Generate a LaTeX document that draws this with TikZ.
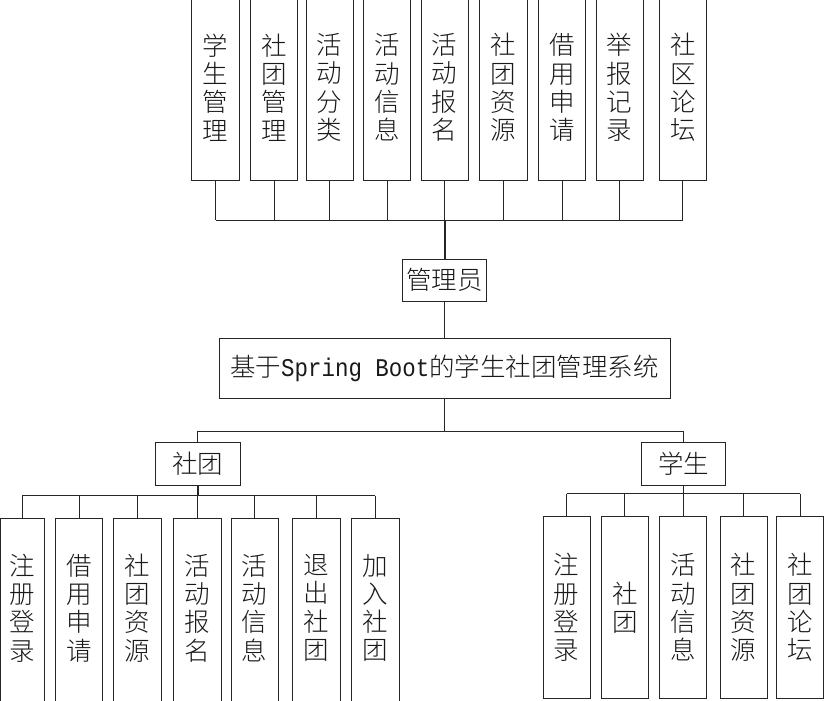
\documentclass[tikz,border=0pt]{standalone}
\usepackage{fontspec}
\setmainfont{Noto Sans CJK SC Light}
\newfontfamily\monolat{Liberation Mono}[FakeStretch=0.88]
\tikzset{
  ln/.style={line width=0.9pt, draw=black!85},
  boxbase/.style={rectangle, inner sep=0pt, align=center, text=black!90,
    font=\fontsize{25.5}{28.3}\selectfont},
  vbox/.style={boxbase, ln, draw, minimum width=47.5pt},
  hbox/.style={boxbase, ln, draw, minimum height=42pt},
  openbox/.style={boxbase, minimum width=47pt, minimum height=178pt},
}
\begin{document}
\begin{tikzpicture}[x=1pt,y=-1pt]
\useasboundingbox (0,0) rectangle (831,701);
\begin{scope}
\clip (0,0) rectangle (831,701);
% top row
\foreach \n/\x/\t in {t1/215.5/学\\生\\管\\理, t2/274/社\\团\\管\\理, t3/329.7/活\\动\\分\\类,
  t4/387/活\\动\\信\\息, t5/444.7/活\\动\\报\\名, t6/503.3/社\\团\\资\\源,
  t7/562/借\\用\\申\\请, t8/619.7/举\\报\\记\\录, t9/682.8/社\\区\\论\\坛}
  \node[vbox, minimum height=185pt] (\n) at (\x,87.5) {\t};
\coordinate (tbus) at (444.7,220.3);
\node[hbox, minimum width=84pt] (mgr) at (444.7,280.2) {管理员};
\node[hbox, minimum width=451pt, minimum height=60.4pt] (sys) at (444.5,368.5)
  {基于{\monolat Spring Boot}的学生社团管理系统};
\node[hbox, minimum width=84.3pt, minimum height=42.3pt] (club) at (197.8,463.8) {社团};
\node[hbox, minimum width=84pt, minimum height=42.3pt] (stu) at (683.7,463.8) {学生};
\coordinate (br) at (444.5,431);
\coordinate (lbus) at (197.8,495.5);
\coordinate (rbus) at (683.7,493.7);
% left bottom row (open at the bottom edge)
\foreach \n/\x/\w/\t in {l1/22.3/43.4/注\\册\\登\\录, l2/79/47/借\\用\\申\\请, l3/137.3/47/社\\团\\资\\源,
  l4/197.5/47/活\\动\\报\\名, l5/254.7/47/活\\动\\信\\息, l6/316.5/47/退\\出\\社\\团, l7/375.3/47/加\\入\\社\\团}
  {\node[openbox, minimum width=\w pt] (\n) at (\x,608) {\t};
   \draw[ln] ([yshift=-20pt]\n.south west) -- (\n.north west) -- (\n.north east) -- ([yshift=-20pt]\n.south east);}
% right bottom row
\foreach \n/\x/\t in {r1/566.7/注\\册\\登\\录, r2/624.8/社\\团, r3/683.3/活\\动\\信\\息,
  r4/743.7/社\\团\\资\\源, r5/800/社\\团\\论\\坛}
  \node[vbox, minimum width=47pt, minimum height=181.6pt] (\n) at (\x,607.5) {\t};
% connectors top
\foreach \n in {t1,t2,t3,t4,t5,t6,t7,t8,t9}
  \draw[ln] (\n.south) -- (\n.south |- tbus);
\draw[ln] (t1.south |- tbus) -- (t9.south |- tbus);
\draw[ln, line width=1.8pt] (tbus) -- (mgr.north);
\draw[ln] (mgr.south) -- (mgr.south |- sys.north);
\draw[ln] (sys.south) -- (br);
\draw[ln] (club.north |- br) -- (stu.north |- br);
\draw[ln] (club.north |- br) -- (club.north);
\draw[ln] (stu.north |- br) -- (stu.north);
% connectors left
\draw[ln, line width=1.6pt] (club.south) -- (lbus);
\draw[ln] (l1.north |- lbus) -- (l7.north |- lbus);
\foreach \n in {l1,l2,l3,l4,l5,l6,l7}
  \draw[ln] (\n.north |- lbus) -- (\n.north);
% connectors right
\draw[ln] (stu.south) -- (rbus);
\draw[ln] (r1.north |- rbus) -- (r5.north |- rbus);
\foreach \n in {r1,r2,r3,r4,r5}
  \draw[ln] (\n.north |- rbus) -- (\n.north);
\end{scope}
\end{tikzpicture}
\end{document}
